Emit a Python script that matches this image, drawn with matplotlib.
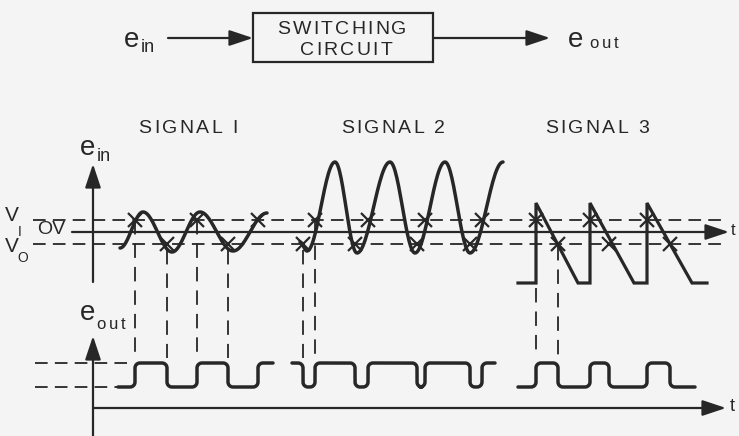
import numpy as np
import matplotlib.pyplot as plt
from matplotlib.patches import Rectangle
from matplotlib.textpath import TextToPath
from matplotlib.font_manager import FontProperties

W, H = 739, 436
INK = '#272727'
PAPER = '#f4f4f4'
plt.rcParams['font.family'] = ['Liberation Sans', 'DejaVu Sans']

# levels (pixel rows of the drawing)
V1_Y, ZERO_Y, VO_Y = 220, 232, 244
OUT_HI, OUT_LO = 363, 387

# signal 1: small sine, extrema
sig1_x = [120, 143, 172, 200, 233, 267]
sig1_y = [248, 212, 252, 212, 251, 213]
# signal 2: large sine
sig2_x = [300, 307, 335, 357, 390, 415, 445, 470, 503]
sig2_y = [242, 251, 162, 253, 162, 253, 162, 253, 162]
# signal 3: sawtooth vertices
sig3_x = [518, 536, 536, 578, 590, 590, 634, 647, 647, 692, 707]
sig3_y = [283, 283, 203, 283, 283, 203, 283, 283, 203, 283, 283]

# threshold crossings (x of upward V1 crossing / downward Vo crossing)
up1, down1 = [135, 197, 258], [167, 228]
up2, down2 = [315, 368, 425, 482], [303, 355, 417, 470]
up3, down3 = [536, 590, 647], [558, 609, 670]

# projection lines drawn down to e_out
proj_x = [135, 167, 197, 228, 303, 315, 536, 558]
proj_top = [220, 250, 220, 250, 250, 222, 288, 246]

signal_names = ['SIGNAL I', 'SIGNAL 2', 'SIGNAL 3']
signal_cx = [188, 393, 597]

_ttp = TextToPath()


def tracked(ax, xc, base, s, size, track):
    # matplotlib has no letter spacing, so place glyphs one by one
    fp = FontProperties(family='Liberation Sans', size=size)

    def adv(t):
        if not t:
            return 0.0
        return _ttp.get_text_width_height_descent(t, fp, ismath=False)[0] * 100 / 72

    total = adv(s) + track * (len(s) - 1)
    x0 = xc - total / 2
    for i, ch in enumerate(s):
        ax.text(x0 + adv(s[:i]) + track * i, base, ch, ha='left', va='baseline',
                fontproperties=fp, color=INK)


def eased(xs, ys, n=30):
    px, py = [xs[0]], [ys[0]]
    for x0, x1, y0, y1 in zip(xs[:-1], xs[1:], ys[:-1], ys[1:]):
        s = np.linspace(0, 1, n)[1:]
        px.extend(x0 + (x1 - x0) * s)
        py.extend(y0 + (y1 - y0) * (1 - np.cos(np.pi * s)) / 2)
    return px, py


def square(x0, x1, start_high, edges, r=5):
    level = OUT_HI if start_high else OUT_LO
    px, py = [x0], [level]
    t = np.linspace(0, np.pi / 2, 10)
    for xe in edges:
        new = OUT_LO if level == OUT_HI else OUT_HI
        d = np.sign(new - level)
        px.extend(xe - r + r * np.sin(t))
        py.extend(level + d * r - d * r * np.cos(t))
        px.extend(xe + r - r * np.cos(t))
        py.extend(new - d * r + d * r * np.sin(t))
        level = new
    px.append(x1)
    py.append(level)
    return px, py


def arrow(ax, start, tip):
    ax.annotate('', xy=tip, xytext=start,
                arrowprops=dict(arrowstyle='-|>,head_length=0.9,head_width=0.3',
                                mutation_scale=16, lw=1.6, color=INK,
                                shrinkA=0, shrinkB=0))


fig = plt.figure(figsize=(W / 100, H / 100), dpi=100, facecolor=PAPER)
ax = fig.add_axes([0, 0, 1, 1])
ax.set_xlim(0, W)
ax.set_ylim(H, 0)
ax.axis('off')

# ---- block diagram
ax.add_patch(Rectangle((253, 13), 180, 49, fill=False, ec=INK, lw=1.6))
tracked(ax, 342, 34, 'SWITCHING', 14, 2.2)
tracked(ax, 346, 55, 'CIRCUIT', 14, 2.2)
arrow(ax, (168, 38), (253, 38))
arrow(ax, (433, 38), (550, 38))
ax.text(124, 40, 'e', ha='left', va='center', fontsize=20, color=INK)
ax.text(141, 47, 'in', ha='left', va='center', fontsize=13, color=INK)
ax.text(568, 40, 'e', ha='left', va='center', fontsize=20, color=INK)
tracked(ax, 604, 48, 'out', 12, 3)

for cx, s in zip(signal_cx, signal_names):
    tracked(ax, cx, 133, s, 14, 2.5)

# ---- input plot
arrow(ax, (93, 282), (93, 164))
ax.text(80, 148, 'e', ha='left', va='center', fontsize=20, color=INK)
ax.text(97, 156, 'in', ha='left', va='center', fontsize=13, color=INK)
arrow(ax, (72, ZERO_Y), (729, ZERO_Y))
ax.text(731, ZERO_Y - 2, 't', ha='left', va='center', fontsize=12, color=INK)
dash = dict(color=INK, lw=1.3, dashes=(7, 4))
ax.plot([33, 728], [V1_Y, V1_Y], **dash)
ax.plot([33, 728], [VO_Y, VO_Y], **dash)
ax.text(5, 215, 'V', ha='left', va='center', fontsize=15, color=INK)
ax.text(18, 232, 'I', ha='left', va='center', fontsize=10, color=INK)
ax.text(37, 229, 'OV', ha='left', va='center', fontsize=14, color=INK)
ax.text(5, 246, 'V', ha='left', va='center', fontsize=15, color=INK)
ax.text(17, 258, 'O', ha='left', va='center', fontsize=10, color=INK)

for xs, ys in [(sig1_x, sig1_y), (sig2_x, sig2_y)]:
    px, py = eased(xs, ys)
    ax.plot(px, py, color=INK, lw=2.5, solid_capstyle='round')
ax.plot(sig3_x, sig3_y, color=INK, lw=2.3, solid_joinstyle='miter')

cross = dict(ls='none', marker='x', ms=10, mew=1.6, color=INK)
ax.plot(up1 + up2 + up3, [V1_Y] * len(up1 + up2 + up3), **cross)
ax.plot(down1 + down2 + down3, [VO_Y] * len(down1 + down2 + down3), **cross)

for x, y0 in zip(proj_x, proj_top):
    ax.plot([x, x], [y0, OUT_HI - 5], color=INK, lw=1.3, dashes=(8, 5))

# ---- output plot
arrow(ax, (93, 440), (93, 336))
ax.text(80, 313, 'e', ha='left', va='center', fontsize=20, color=INK)
tracked(ax, 111, 329, 'out', 12, 3)
arrow(ax, (93, 408), (726, 408))
ax.text(730, 406, 't', ha='left', va='center', fontsize=13, color=INK)
ax.plot([35, 127], [OUT_HI, OUT_HI], **dash)
ax.plot([35, 118], [OUT_LO, OUT_LO], **dash)

for x0, x1, hi, edges in [(118, 273, False, sorted(up1 + down1)),
                          (292, 495, True, sorted(up2 + down2)),
                          (518, 695, False, sorted(up3 + down3))]:
    px, py = square(x0, x1, hi, edges)
    ax.plot(px, py, color=INK, lw=2.5, solid_capstyle='round')

fig.savefig('out.png', dpi=100, facecolor=PAPER)
